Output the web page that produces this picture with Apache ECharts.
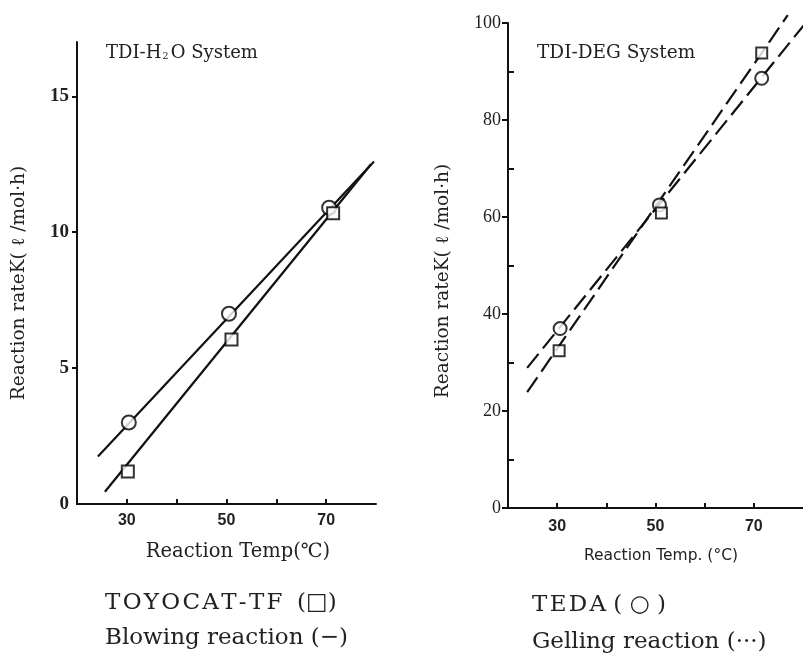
<!DOCTYPE html>
<html>
<head>
<meta charset="utf-8">
<script src="https://cdn.jsdelivr.net/npm/echarts@6/dist/echarts.min.js"></script>
<style>
  html, body { margin: 0; padding: 0; background: #fff; }
  #chart { width: 803px; height: 659px; }
</style>
</head>
<body>
<div id="chart"></div>
<script>
// ---- left panel: TDI-H2O system (blowing reaction) ----
var h2oCircleX = [30.4, 50.5, 70.6];
var h2oCircleY = [3.0, 7.0, 10.9];
var h2oSquareX = [30.2, 51.0, 71.4];
var h2oSquareY = [1.2, 6.05, 10.7];
var h2oCircleLineX = [24.2, 79.6];
var h2oCircleLineY = [1.75, 12.6];
var h2oSquareLineX = [25.6, 79.0];
var h2oSquareLineY = [0.45, 12.5];
var h2oYLabels = [0, 5, 10, 15];

// ---- right panel: TDI-DEG system (gelling reaction) ----
var degCircleX = [30.6, 50.8, 71.6];
var degCircleY = [37.0, 62.5, 88.6];
var degSquareX = [30.4, 51.2, 71.6];
var degSquareY = [32.4, 60.8, 93.8];
var degCircleLineX = [23.9, 80.2];
var degCircleLineY = [28.9, 99.6];
var degSquareLineX = [23.9, 76.9];
var degSquareLineY = [23.9, 101.6];
var degMinorTicks = [10, 30, 50, 70, 90];

var tempTicks = [30, 40, 50, 60, 70];
var tempLabels = [30, 50, 70];

function pairs(xs, ys) {
    var out = [];
    for (var i = 0; i < xs.length; i++) {
        out.push([xs[i], ys[i]]);
    }
    return out;
}

// wide-set caption letters like the printed original
function spaced(str) {
    return str.split('').join('\u200A');
}

var serif = '"DejaVu Serif", "Liberation Serif", serif';

function xAxisFor(grid, margin) {
    return {
        type: 'value', gridIndex: grid, min: 20, max: 80,
        axisLine: { lineStyle: { color: '#111', width: 2 } },
        axisTick: { inside: true, length: 5, customValues: tempTicks, lineStyle: { color: '#111', width: 2 } },
        axisLabel: { customValues: tempLabels, color: '#222', fontFamily: 'Liberation Sans', fontWeight: 'bold', fontSize: 16, margin: margin },
        splitLine: { show: false }
    };
}

function markers(name, grid, xs, ys, symbol, size) {
    return {
        name: name, type: 'scatter', xAxisIndex: grid, yAxisIndex: grid,
        data: pairs(xs, ys), symbol: symbol, symbolSize: size, z: 5,
        itemStyle: { color: '#000', borderWidth: 2 }
    };
}

function fitLine(name, grid, xs, ys, dashed) {
    return {
        name: name, type: 'line', xAxisIndex: grid, yAxisIndex: grid,
        data: pairs(xs, ys), showSymbol: false, clip: false, z: 3,
        lineStyle: { color: '#111', width: 2.2, type: dashed ? [18, 7] : 'solid' }
    };
}

var chart = echarts.init(document.getElementById('chart'), null, { renderer: 'canvas' });

chart.setOption({
    animation: false,
    backgroundColor: '#fff',
    grid: [
        { left: 77, top: 42, width: 299, height: 462 },
        { left: 508, top: 23, width: 295, height: 485 }
    ],
    xAxis: [xAxisFor(0, 9), xAxisFor(1, 11)],
    yAxis: [
        {
            type: 'value', gridIndex: 0, min: 0, max: 17,
            axisLine: { show: true, lineStyle: { color: '#111', width: 2 } },
            axisTick: { customValues: [5, 10, 15], length: 5, lineStyle: { color: '#111', width: 2 } },
            axisLabel: { customValues: h2oYLabels, color: '#222', fontFamily: 'Liberation Serif', fontWeight: 'bold', fontSize: 19, margin: 8 },
            splitLine: { show: false }
        },
        {
            type: 'value', gridIndex: 1, min: 0, max: 100, interval: 20,
            axisLine: { show: true, lineStyle: { color: '#111', width: 2 } },
            axisTick: { length: 6, lineStyle: { color: '#111', width: 2 } },
            axisLabel: { color: '#222', fontFamily: 'Liberation Serif', fontSize: 18, margin: 7 },
            splitLine: { show: false }
        },
        {
            // minor inward ticks on the right panel
            type: 'value', gridIndex: 1, position: 'left', min: 0, max: 100,
            axisLine: { show: false },
            axisTick: { inside: true, length: 6, customValues: degMinorTicks, lineStyle: { color: '#111', width: 2 } },
            axisLabel: { show: false },
            splitLine: { show: false }
        }
    ],
    series: [
        fitLine('TEDA blowing', 0, h2oCircleLineX, h2oCircleLineY, false),
        fitLine('TOYOCAT-TF blowing', 0, h2oSquareLineX, h2oSquareLineY, false),
        markers('TEDA', 0, h2oCircleX, h2oCircleY, 'emptyCircle', 14),
        markers('TOYOCAT-TF', 0, h2oSquareX, h2oSquareY, 'emptyRect', 12),
        fitLine('TEDA gelling', 1, degCircleLineX, degCircleLineY, true),
        fitLine('TOYOCAT-TF gelling', 1, degSquareLineX, degSquareLineY, true),
        markers('TEDA', 1, degCircleX, degCircleY, 'emptyCircle', 13),
        markers('TOYOCAT-TF', 1, degSquareX, degSquareY, 'emptyRect', 11)
    ],
    graphic: [
        {
            type: 'text', left: 106, top: 44,
            style: {
                text: '{a|TDI-H}{s|2}{a|O System}',
                rich: {
                    a: { fontFamily: 'DejaVu Serif', fontSize: 18, fill: '#222' },
                    s: { fontFamily: 'DejaVu Serif', fontSize: 10, fill: '#222', padding: [6, 2, 0, 1] }
                }
            }
        },
        { type: 'text', left: 537, top: 44, style: { text: 'TDI-DEG System', font: '18.5px ' + serif, fill: '#222' } },
        {
            type: 'text', x: 19, y: 283, rotation: Math.PI / 2,
            style: { text: 'Reaction rateK( ℓ /mol·h)', font: '18.5px ' + serif, fill: '#222', align: 'center', verticalAlign: 'middle' }
        },
        {
            type: 'text', x: 443, y: 281, rotation: Math.PI / 2,
            style: { text: 'Reaction rateK( ℓ /mol·h)', font: '18.5px ' + serif, fill: '#222', align: 'center', verticalAlign: 'middle' }
        },
        { type: 'text', x: 238, y: 552, style: { text: 'Reaction Temp(℃)', font: '19.5px ' + serif, fill: '#222', align: 'center', verticalAlign: 'middle' } },
        { type: 'text', x: 661, y: 556, style: { text: 'Reaction Temp. (°C)', font: '15.5px "DejaVu Sans", sans-serif', fill: '#222', align: 'center', verticalAlign: 'middle' } },
        { type: 'text', left: 105, top: 592, style: { text: spaced('TOYOCAT-TF') + '  (□)', font: '23px ' + serif, fill: '#222' } },
        { type: 'text', left: 105, top: 627, style: { text: 'Blowing reaction (−)', font: '23px ' + serif, fill: '#222' } },
        { type: 'text', left: 532, top: 594, style: { text: spaced('TEDA') + ' ( ○ )', font: '23px ' + serif, fill: '#222' } },
        { type: 'text', left: 532, top: 631, style: { text: 'Gelling reaction (···)', font: '23px ' + serif, fill: '#222' } }
    ]
});
</script>
</body>
</html>
